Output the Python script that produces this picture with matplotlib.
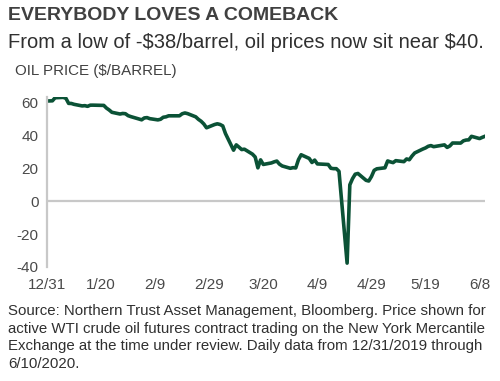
import matplotlib
matplotlib.use("Agg")
import matplotlib.pyplot as plt
import pandas as pd

dates = ["2019-12-31","2020-01-02","2020-01-03","2020-01-06","2020-01-07","2020-01-08","2020-01-09","2020-01-10",
"2020-01-13","2020-01-14","2020-01-15","2020-01-16","2020-01-17","2020-01-21","2020-01-22","2020-01-23","2020-01-24",
"2020-01-27","2020-01-28","2020-01-29","2020-01-30","2020-01-31","2020-02-03","2020-02-04","2020-02-05","2020-02-06",
"2020-02-07","2020-02-10","2020-02-11","2020-02-12","2020-02-13","2020-02-14","2020-02-18","2020-02-19","2020-02-20",
"2020-02-21","2020-02-24","2020-02-25","2020-02-26","2020-02-27","2020-02-28","2020-03-02","2020-03-03","2020-03-04",
"2020-03-05","2020-03-06","2020-03-09","2020-03-10","2020-03-11","2020-03-12","2020-03-13","2020-03-16","2020-03-17",
"2020-03-18","2020-03-19","2020-03-20","2020-03-23","2020-03-24","2020-03-25","2020-03-26","2020-03-27","2020-03-30",
"2020-03-31","2020-04-01","2020-04-02","2020-04-03","2020-04-06","2020-04-07","2020-04-08","2020-04-09","2020-04-13",
"2020-04-14","2020-04-15","2020-04-16","2020-04-17","2020-04-20","2020-04-21","2020-04-22","2020-04-23","2020-04-24",
"2020-04-27","2020-04-28","2020-04-29","2020-04-30","2020-05-01","2020-05-04","2020-05-05","2020-05-06","2020-05-07",
"2020-05-08","2020-05-11","2020-05-12","2020-05-13","2020-05-14","2020-05-15","2020-05-18","2020-05-19","2020-05-20",
"2020-05-21","2020-05-22","2020-05-26","2020-05-27","2020-05-28","2020-05-29","2020-06-01","2020-06-02","2020-06-03",
"2020-06-04","2020-06-05","2020-06-08","2020-06-09","2020-06-10"]
prices = [61.06,61.18,63.05,63.27,62.70,59.61,59.56,59.04,
58.08,58.23,57.81,58.52,58.54,58.38,56.74,55.59,54.19,
53.14,53.48,53.33,52.14,51.56,50.11,49.61,50.75,50.95,
50.32,49.57,49.94,51.17,51.42,52.05,52.05,53.29,53.78,
53.38,51.43,49.90,48.73,47.09,44.76,46.75,47.18,46.78,
45.90,41.28,31.13,34.36,32.98,31.50,31.73,28.70,26.95,
20.37,25.22,22.43,23.36,24.01,24.49,22.60,21.51,20.09,
20.48,20.31,25.32,28.34,26.08,23.63,25.09,22.76,22.41,
20.11,19.87,19.87,18.27,-37.63,10.01,13.78,16.50,16.94,
12.78,12.34,15.06,18.84,19.78,20.39,24.56,23.99,23.55,
24.74,24.14,25.78,25.29,27.56,29.43,31.82,32.50,33.49,
33.92,33.25,34.35,32.81,33.71,35.49,35.44,36.81,37.29,
37.41,39.55,38.19,38.94,39.60]
tick_dates = ["2019-12-31","2020-01-20","2020-02-09","2020-02-29","2020-03-20","2020-04-09","2020-04-29","2020-05-19","2020-06-08"]
tick_labels = ["12/31","1/20","2/9","2/29","3/20","4/9","4/29","5/19","6/8"]
y_ticks = [60, 40, 20, 0, -20, -40]

title = "EVERYBODY LOVES A COMEBACK"
subtitle = r"From a low of -\$38/barrel, oil prices now sit near \$40."
ylabel = r"OIL PRICE (\$/BARREL)"
footer = ("Source: Northern Trust Asset Management, Bloomberg. Price shown for\n"
          "active WTI crude oil futures contract trading on the New York Mercantile\n"
          "Exchange at the time under review. Daily data from 12/31/2019 through\n"
          "6/10/2020.")

plt.rcParams['font.family'] = ['Liberation Sans', 'DejaVu Sans']

W, H = 500, 381
fig = plt.figure(figsize=(W/100, H/100), dpi=100)
ax = fig.add_axes([47/W, 1-267/H, (485-47)/W, (267-97)/H])

x = pd.to_datetime(dates)
ax.plot(x, prices, color="#0b5236", lw=2.6, solid_joinstyle="round")
ax.axhline(0, color="#c8c8c8", lw=1.6, zorder=0)

ax.set_ylim(-40, 63.5)
ax.set_xlim(pd.Timestamp("2019-12-31"), pd.Timestamp("2020-06-10"))
ax.set_yticks(y_ticks)
ax.set_yticklabels([str(v) for v in y_ticks])
ax.set_xticks(pd.to_datetime(tick_dates))
ax.set_xticklabels(tick_labels)

for s in ["top", "right", "bottom"]:
    ax.spines[s].set_visible(False)
ax.spines["left"].set_color("#c8c8c8")
ax.spines["left"].set_linewidth(1.6)
ax.tick_params(axis="both", length=0, labelsize=11, labelcolor="#4a4a4a")
ax.tick_params(axis="y", pad=6)
ax.tick_params(axis="x", pad=8)

fig.text(8/W, 1-16/H, title, fontsize=14, fontweight="bold", color="#404040", va="center", ha="left")
fig.text(8/W, 1-43/H, subtitle, fontsize=14.5, color="#303030", va="center", ha="left")
fig.text(15/W, 1-71/H, ylabel, fontsize=10.9, color="#404040", va="center", ha="left")
fig.text(8/W, 1-304/H, footer, fontsize=10.8, color="#303030", va="top", ha="left", linespacing=1.33)

fig.savefig("out.png", dpi=100)
